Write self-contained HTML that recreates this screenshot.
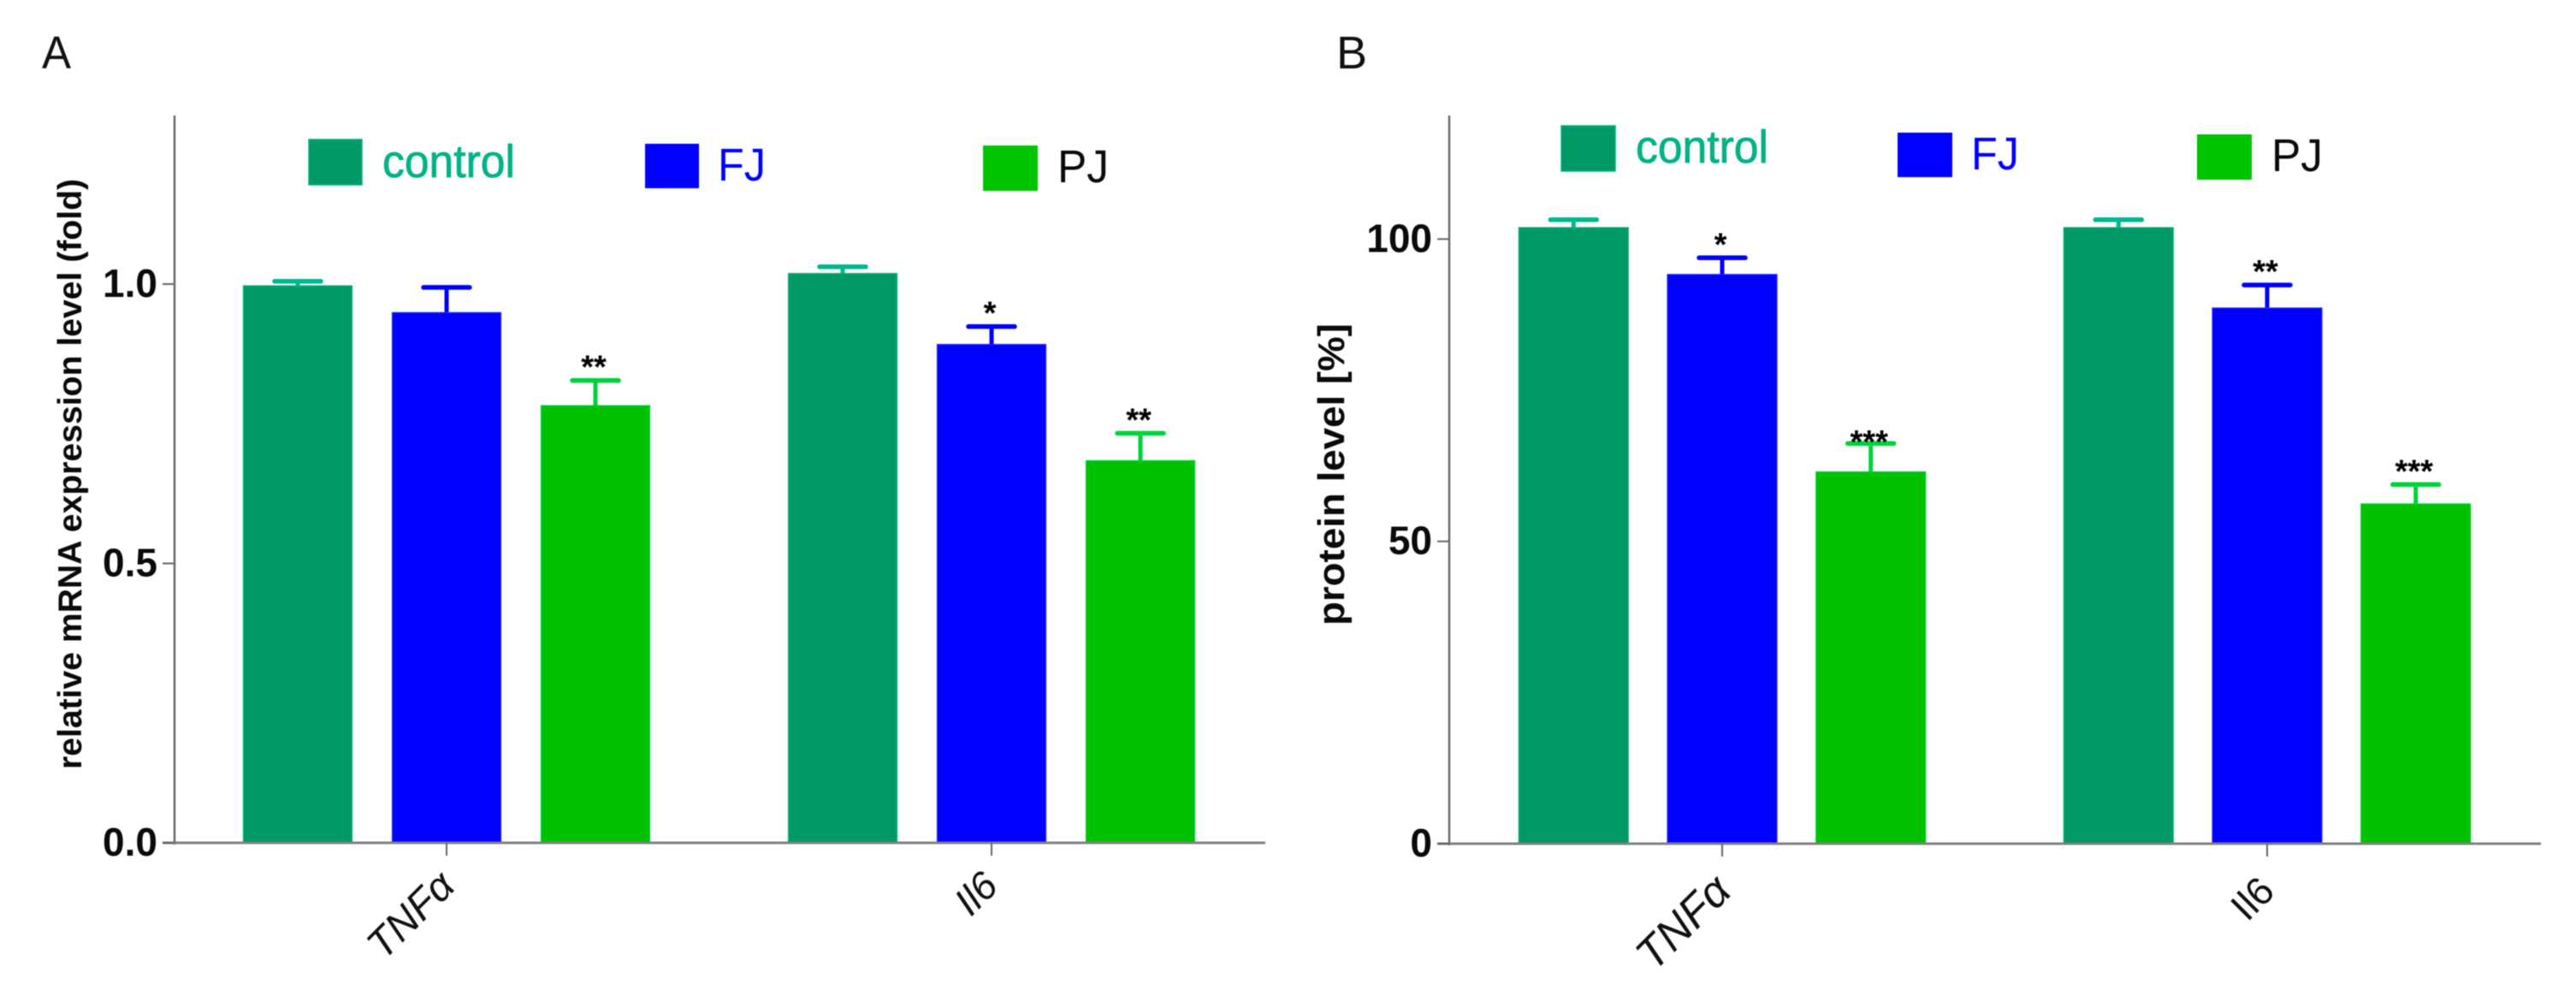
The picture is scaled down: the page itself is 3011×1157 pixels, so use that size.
<!DOCTYPE html>
<html lang="en">
<head>
<meta charset="utf-8">
<title>Relative mRNA expression and protein level of TNFα and Il6</title>
<style>
  html, body { margin: 0; padding: 0; background: #fff; }
  svg { display: block; filter: blur(0.5px); }
  text { font-family: "Liberation Sans", sans-serif; }
  .tick-label { font-weight: bold; font-size: 46px; fill: #0a0a0a; text-anchor: end; }
  .axis-title { font-weight: bold; fill: #0a0a0a; }
  .panel-label { font-size: 54px; fill: #111; }
  .legend-label { font-size: 54px; }
  .category-label { font-style: italic; fill: #111; text-anchor: end; }
  .sig-label { font-weight: bold; font-size: 38px; fill: #000; text-anchor: middle; }
</style>
</head>
<body>
<svg id="figure" xmlns="http://www.w3.org/2000/svg" width="3011" height="1157" viewBox="0 0 3011 1157">
  <rect x="0" y="0" width="3011" height="1157" fill="#ffffff"/>

  <g id="panel-a">
    <text class="panel-label" x="49" y="80" textLength="34" lengthAdjust="spacingAndGlyphs">A</text>
    <text class="axis-title" font-size="39" transform="translate(95,899) rotate(-90)" textLength="690" lengthAdjust="spacingAndGlyphs">relative mRNA expression level (fold)</text>
    <g>
      <rect x="361" y="163" width="62" height="53" fill="#009966" stroke="#00b38a" stroke-width="1.5"/>
      <text class="legend-label" x="447" y="207" fill="#00b285" stroke="#00b285" stroke-width="0.8" textLength="155" lengthAdjust="spacingAndGlyphs">control</text>
      <rect x="754" y="168" width="63" height="52" fill="#0000ff"/>
      <text class="legend-label" x="839" y="211" fill="#0000ff" textLength="56" lengthAdjust="spacingAndGlyphs">FJ</text>
      <rect x="1149" y="170" width="64" height="53" fill="#00c400"/>
      <text class="legend-label" x="1236" y="213" fill="#0a0a0a" textLength="60" lengthAdjust="spacingAndGlyphs">PJ</text>
    </g>
  </g>

  <g id="panel-b">
    <text class="panel-label" x="1562" y="80">B</text>
    <text class="axis-title" font-size="44" transform="translate(1571,731) rotate(-90)" textLength="353" lengthAdjust="spacingAndGlyphs">protein level [%]</text>
    <g>
      <rect x="1825" y="147" width="63" height="53" fill="#009966" stroke="#00b38a" stroke-width="1.5"/>
      <text class="legend-label" x="1912" y="190" fill="#00b285" stroke="#00b285" stroke-width="0.8" textLength="155" lengthAdjust="spacingAndGlyphs">control</text>
      <rect x="2218" y="155" width="64" height="52" fill="#0000ff"/>
      <text class="legend-label" x="2304" y="198" fill="#0000ff" textLength="56" lengthAdjust="spacingAndGlyphs">FJ</text>
      <rect x="2568" y="157" width="64" height="53" fill="#00c400"/>
      <text class="legend-label" x="2655" y="200" fill="#0a0a0a" textLength="60" lengthAdjust="spacingAndGlyphs">PJ</text>
    </g>
  </g>
</svg>

<script>
// ---- Shared categories and series names ----
const categoriesA = ['TNFα', 'Il6'];
const categoriesB = ['TNFα', 'Il6'];
const seriesNames = ['control', 'FJ', 'PJ'];

// ---- Panel A: relative mRNA expression level (fold) ----
const tickValuesA = [0, 0.5, 1];
const tickLabelsA = ['0.0', '0.5', '1.0'];
const controlMeansA = [0.997, 1.019];
const controlErrorsA = [0.008, 0.012];
const fjMeansA = [0.949, 0.892];
const fjErrorsA = [0.045, 0.032];
const pjMeansA = [0.7825, 0.684];
const pjErrorsA = [0.045, 0.049];
const controlSigA = ['', ''];
const fjSigA = ['', '*'];
const pjSigA = ['**', '**'];

// ---- Panel B: protein level [%] ----
const tickValuesB = [0, 50, 100];
const tickLabelsB = ['0', '50', '100'];
const controlMeansB = [101.9, 101.9];
const controlErrorsB = [1.3, 1.3];
const fjMeansB = [94.15, 88.6];
const fjErrorsB = [2.75, 3.8];
const pjMeansB = [61.5, 56.2];
const pjErrorsB = [4.7, 3.2];
const controlSigB = ['', ''];
const fjSigB = ['*', '**'];
const pjSigB = ['***', '***'];

const SVG_NS = 'http://www.w3.org/2000/svg';
const barFill = ['#009966', '#0000ff', '#00c000'];
const barEdge = ['#00b38a', '#2a2aff', '#00d63c'];
const errColor = ['#00b890', '#0000ff', '#00d23a'];

function make(parent, tag, attrs) {
  const el = document.createElementNS(SVG_NS, tag);
  for (const k in attrs) el.setAttribute(k, attrs[k]);
  parent.appendChild(el);
  return el;
}

function drawPanel(cfg) {
  const root = document.getElementById(cfg.id);
  const yPos = v => cfg.y0 - v * cfg.yUnit;
  const groupX = g => cfg.firstGroupX + g * cfg.groupStep;
  const barX = (g, s) => groupX(g) + (s - 1) * cfg.barStep;

  // error bars, bars
  cfg.categories.forEach((cat, g) => {
    cfg.series.forEach((ser, s) => {
      const cx = barX(g, s);
      const top = yPos(ser.means[g]);
      const capY = yPos(ser.means[g] + ser.errors[g]);
      const key = seriesNames[s].toLowerCase() + '-' + cat.replace('α', 'a').toLowerCase() + '-' + cfg.suffix;

      const stem = make(root, 'line', { x1: cx, x2: cx, y1: top + 2, y2: capY, stroke: errColor[s], 'stroke-width': 5 });
      
      

      const cap = make(root, 'line', { x1: cx - 27, x2: cx + 27, y1: capY, y2: capY, stroke: errColor[s], 'stroke-width': 5.5, 'stroke-linecap': 'round' });
      
      

      const bar = make(root, 'rect', {
        x: cx - cfg.barWidth / 2, y: top, width: cfg.barWidth, height: cfg.y0 - top,
        fill: barFill[s], stroke: barEdge[s], 'stroke-width': 1.2
      });
      
      

      const stars = ser.sig[g];
      if (stars) {
        const gap = cfg.tightStars && stars === '***' && g === 0 ? 10 : 24;
        const t = make(root, 'text', { class: 'sig-label', x: cx - 2, y: capY - gap + 21 });
        t.textContent = stars;
        
        
      }
    });
  });

  // axes
  const yAxis = make(root, 'line', { x1: cfg.axisX, x2: cfg.axisX, y1: cfg.axisTop, y2: cfg.y0 + 2, stroke: '#666', 'stroke-width': 2.4 });
  
  

  const xAxis = make(root, 'line', { x1: cfg.axisX - 14, x2: cfg.axisEnd, y1: cfg.y0, y2: cfg.y0, stroke: '#808080', 'stroke-width': 3 });
  
  

  // y ticks
  cfg.tickValues.forEach((v, i) => {
    const ty = yPos(v);
    const tick = make(root, 'line', { x1: cfg.axisX - 14, x2: cfg.axisX, y1: ty, y2: ty, stroke: '#666', 'stroke-width': 2 });
    
    

    const lab = make(root, 'text', { class: 'tick-label', x: cfg.axisX - 20, y: ty + 15 });
    lab.textContent = cfg.tickLabels[i];
    
    
  });

  // x ticks and category labels
  cfg.categories.forEach((cat, g) => {
    const gx = groupX(g);
    const tick = make(root, 'line', { x1: gx, x2: gx, y1: cfg.y0, y2: cfg.y0 + 15, stroke: '#666', 'stroke-width': 2 });
    
    

    const isGreek = cat.indexOf('α') >= 0;
    const lx = gx + (isGreek ? cfg.labelDx + 2 : cfg.labelDx);
    const ly = cfg.labelY;
    const lab = make(root, 'text', { class: 'category-label', x: lx, y: ly, transform: 'rotate(-45 ' + lx + ' ' + ly + ')' });
    lab.textContent = cat;
    lab.style.fontSize = (isGreek ? cfg.greekLabelSize : 46) + 'px';
    if (!isGreek && cfg.uprightPlainLabel) lab.style.fontStyle = 'normal';
    
    
  });
}

drawPanel({
  id: 'panel-a', suffix: 'a',
  categories: categoriesA,
  tickValues: tickValuesA, tickLabels: tickLabelsA,
  series: [
    { means: controlMeansA, errors: controlErrorsA, sig: controlSigA },
    { means: fjMeansA, errors: fjErrorsA, sig: fjSigA },
    { means: pjMeansA, errors: pjErrorsA, sig: pjSigA }
  ],
  y0: 985, yUnit: 653, axisX: 204, axisTop: 135, axisEnd: 1479,
  firstGroupX: 522, groupStep: 637, barStep: 174, barWidth: 127,
  labelDx: 10, labelY: 1038, greekLabelSize: 48, uprightPlainLabel: false, tightStars: false
});

drawPanel({
  id: 'panel-b', suffix: 'b',
  categories: categoriesB,
  tickValues: tickValuesB, tickLabels: tickLabelsB,
  series: [
    { means: controlMeansB, errors: controlErrorsB, sig: controlSigB },
    { means: fjMeansB, errors: fjErrorsB, sig: fjSigB },
    { means: pjMeansB, errors: pjErrorsB, sig: pjSigB }
  ],
  y0: 986, yUnit: 7.066, axisX: 1694, axisTop: 135, axisEnd: 2970,
  firstGroupX: 2013, groupStep: 637, barStep: 173.7, barWidth: 128,
  labelDx: 11, labelY: 1044, greekLabelSize: 52, uprightPlainLabel: true, tightStars: true
});
</script>
</body>
</html>
